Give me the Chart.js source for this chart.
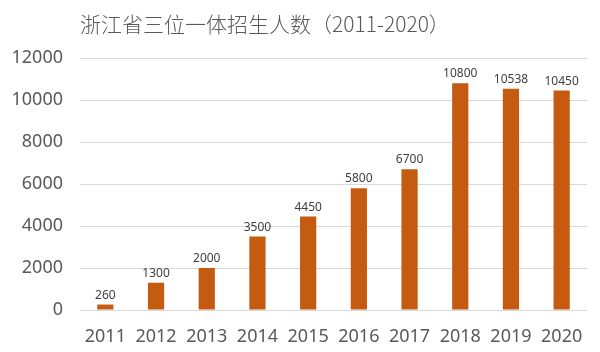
<!DOCTYPE html>
<html lang="zh">
<head>
    <meta charset="UTF-8">
    <title>浙江省三位一体招生人数</title>
    <script src="https://cdn.jsdelivr.net/npm/chart.js"></script>
    <style>
        body { margin: 0; background: #fff; }
        .wrap { width: 600px; height: 352px; }
    </style>
</head>
<body>
    <div class="wrap">
        <canvas id="myChart" width="600" height="352"></canvas>
    </div>

    <script>
        const titleText = '浙江省三位一体招生人数（2011-2020）';
        const years = ['2011', '2012', '2013', '2014', '2015', '2016', '2017', '2018', '2019', '2020'];
        const students = [260, 1300, 2000, 3500, 4450, 5800, 6700, 10800, 10538, 10450];

        // Titel links oben und Werte über den Balken
        const extras = {
            id: 'extras',
            afterDraw(chart) {
                const ctx = chart.ctx;
                ctx.save();
                ctx.fillStyle = '#595959';
                ctx.font = '300 21px "Noto Sans CJK SC"';
                ctx.textAlign = 'left';
                ctx.textBaseline = 'middle';
                ctx.fillText(titleText, 80, 24);

                ctx.font = '12px "Noto Sans"';
                ctx.fillStyle = '#404040';
                ctx.textAlign = 'center';
                ctx.textBaseline = 'alphabetic';
                chart.getDatasetMeta(0).data.forEach((bar, i) => {
                    ctx.fillText(String(students[i]), bar.x, bar.y - 6);
                });
                ctx.restore();
            }
        };

        const ctx = document.getElementById('myChart').getContext('2d');
        new Chart(ctx, {
            type: 'bar',
            data: {
                labels: years,
                datasets: [{
                    data: students,
                    backgroundColor: '#C55A11',
                    barPercentage: 0.32,
                    categoryPercentage: 1
                }]
            },
            options: {
                responsive: false,
                animation: false,
                layout: { padding: { top: 58, right: 13, left: 0, bottom: 0 } },
                plugins: {
                    legend: { display: false },
                    tooltip: { enabled: false }
                },
                scales: {
                    x: {
                        grid: { display: false },
                        border: { display: false },
                        ticks: { color: '#595959', font: { family: 'Noto Sans', size: 18 }, padding: 8 },
                        afterFit(s) { s.height = 42; }
                    },
                    y: {
                        min: 0,
                        max: 12000,
                        grid: { color: '#D9D9D9', drawTicks: false },
                        border: { display: false },
                        ticks: {
                            stepSize: 2000,
                            color: '#595959',
                            font: { family: 'Noto Sans', size: 18 },
                            padding: 17,
                            callback: (v) => String(v)
                        },
                        afterFit(s) { s.width = 80; }
                    }
                }
            },
            plugins: [extras]
        });
    </script>
</body>
</html>
